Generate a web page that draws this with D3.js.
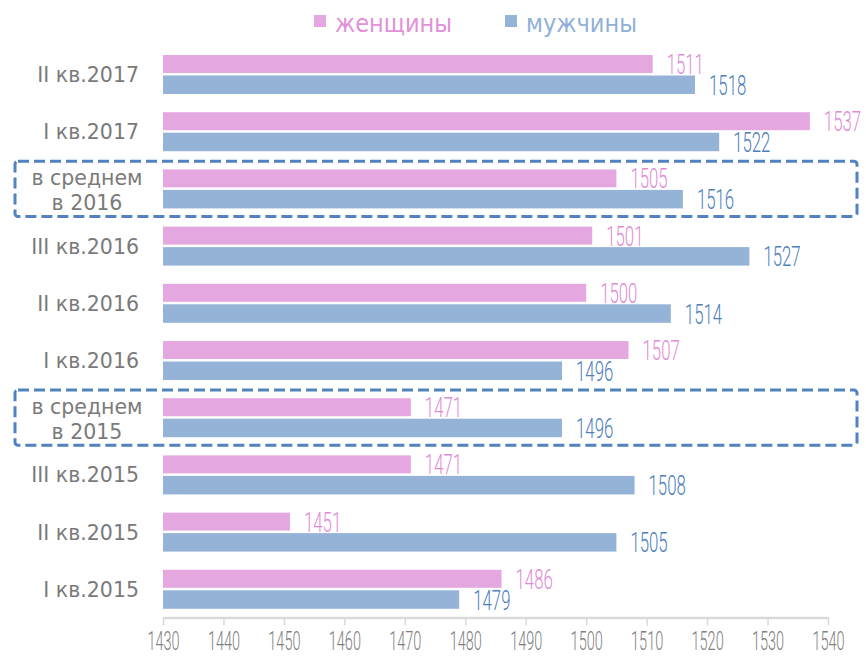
<!DOCTYPE html>
<html>
<head>
<meta charset="utf-8">
<script src="https://cdn.jsdelivr.net/npm/d3@7"></script>
<style>
	html, body {
		margin: 0;
		padding: 0;
		background: #fff;
	}
	.chart-holder {
		width: 866px;
		height: 657px;
	}
</style>
</head>
<body>
<div class="chart-holder"></div>
<script>
// chart data
var categories = ['II кв.2017', 'I кв.2017', 'в среднем в 2016', 'III кв.2016', 'II кв.2016', 'I кв.2016', 'в среднем в 2015', 'III кв.2015', 'II кв.2015', 'I кв.2015'];
var women = [1511, 1537, 1505, 1501, 1500, 1507, 1471, 1471, 1451, 1486];
var men = [1518, 1522, 1516, 1527, 1514, 1496, 1496, 1508, 1505, 1479];
var xTicks = [1430, 1440, 1450, 1460, 1470, 1480, 1490, 1500, 1510, 1520, 1530, 1540];
var seriesNames = ['женщины', 'мужчины'];

initBarChart();

// bar chart init
function initBarChart() {
	var width = 866;
	var height = 657;
	var narrowFont = 'Roboto, "DejaVu Sans Condensed", sans-serif';
	var mainFont = '"DejaVu Sans", Verdana, sans-serif';

	var colors = {
		women: '#e4a7e0',
		men: '#95b3d7',
		womenText: '#e08bd6',
		menText: '#4d7fbc',
		legendWomen: '#e290d8',
		legendMen: '#90b0d8',
		axis: '#d9d9d9',
		tick: '#7f7f7f',
		label: '#7a7a7a',
		box: '#5282c0'
	};

	var svg = d3.select('.chart-holder')
		.append('svg')
		.attr('width', width)
		.attr('height', height);

	var xScale = d3.scaleLinear()
		.domain([xTicks[0], xTicks[xTicks.length - 1]])
		.range([163, 828]);

	var yScale = d3.scaleBand()
		.domain(categories)
		.range([46.4, 618.4]);

	var band = yScale.bandwidth();

	function center(d) {
		return yScale(d) + band / 2;
	}

	// dashed frames round the yearly averages
	svg.selectAll('.frame')
		.data(categories.filter(function(d) {
			return d.indexOf('в среднем') === 0;
		}))
		.enter()
		.append('rect')
		.attr('class', 'frame')
		.attr('x', 15)
		.attr('y', function(d) {
			return yScale(d) + 0.5;
		})
		.attr('width', 842)
		.attr('height', band - 2)
		.attr('rx', 3)
		.attr('fill', 'none')
		.attr('stroke', colors.box)
		.attr('stroke-width', 3)
		.attr('stroke-dasharray', '11,5');

	// axis
	var xAxis = svg.append('g')
		.attr('class', 'x-axis')
		.attr('transform', 'translate(0,617.5)')
		.call(d3.axisBottom(xScale)
			.tickValues(xTicks)
			.tickFormat(d3.format('d'))
			.tickSize(8)
			.tickSizeOuter(0));

	xAxis.select('.domain')
		.attr('stroke', colors.axis)
		.attr('stroke-width', 2.5);

	xAxis.selectAll('.tick line')
		.attr('stroke', colors.axis)
		.attr('stroke-width', 1.5);

	xAxis.selectAll('.tick text')
		.attr('y', 33)
		.attr('dy', 0)
		.attr('fill', colors.tick)
		.attr('font-family', narrowFont)
		.attr('font-weight', 300)
		.attr('font-size', 25)
		.attr('transform', 'scale(0.58,1)');

	// category labels
	var yLabels = svg.selectAll('.cat-label')
		.data(categories)
		.enter()
		.append('text')
		.attr('class', 'cat-label')
		.attr('fill', colors.label)
		.attr('font-family', mainFont)
		.attr('font-size', 20.5);

	yLabels.each(function(d) {
		var text = d3.select(this);
		var c = center(d);

		if (d.indexOf('в среднем') === 0) {
			var lines = ['в среднем', d.replace('в среднем ', '')];

			text.attr('text-anchor', 'middle');
			lines.forEach(function(line, i) {
				text.append('tspan')
					.attr('x', 87)
					.attr('y', c - 4.5 + i * 25.5)
					.text(line);
			});
		} else {
			text.attr('text-anchor', 'end')
				.attr('x', 139)
				.attr('y', c + 7)
				.text(d);
		}
	});

	// bars
	var series = [
		{ key: 'women', values: women, offset: -20, size: 18 },
		{ key: 'men', values: men, offset: 0.5, size: 18.5 }
	];

	series.forEach(function(s) {
		var holder = svg.append('g')
			.attr('class', 'series-' + s.key);

		holder.selectAll('rect')
			.data(categories)
			.enter()
			.append('rect')
			.attr('x', xScale(xTicks[0]))
			.attr('y', function(d) {
				return center(d) + s.offset;
			})
			.attr('width', function(d, i) {
				return xScale(s.values[i]) - xScale(xTicks[0]);
			})
			.attr('height', s.size)
			.attr('fill', colors[s.key]);

		holder.selectAll('text')
			.data(categories)
			.enter()
			.append('text')
			.attr('transform', function(d, i) {
				var x = xScale(s.values[i]) + 14;
				var y = center(d) + s.offset + s.size / 2 + 10;

				return 'translate(' + x + ',' + y + ') scale(0.6,1)';
			})
			.attr('fill', colors[s.key + 'Text'])
			.attr('font-family', narrowFont)
			.attr('font-weight', 300)
			.attr('font-size', 28)
			.text(function(d, i) {
				return s.values[i];
			});
	});

	// legend
	var legend = svg.append('g')
		.attr('class', 'legend');

	var legendItems = [
		{ name: seriesNames[0], x: 314, fill: colors.women, text: colors.legendWomen },
		{ name: seriesNames[1], x: 505, fill: colors.men, text: colors.legendMen }
	];

	legendItems.forEach(function(item) {
		legend.append('rect')
			.attr('x', item.x)
			.attr('y', 15)
			.attr('width', 12)
			.attr('height', 12)
			.attr('fill', item.fill);

		legend.append('text')
			.attr('x', item.x + 21)
			.attr('y', 31.5)
			.attr('fill', item.text)
			.attr('font-family', '"DejaVu Sans Condensed", "DejaVu Sans", sans-serif')
			.attr('font-size', 25)
			.text(item.name);
	});
}
</script>
</body>
</html>
